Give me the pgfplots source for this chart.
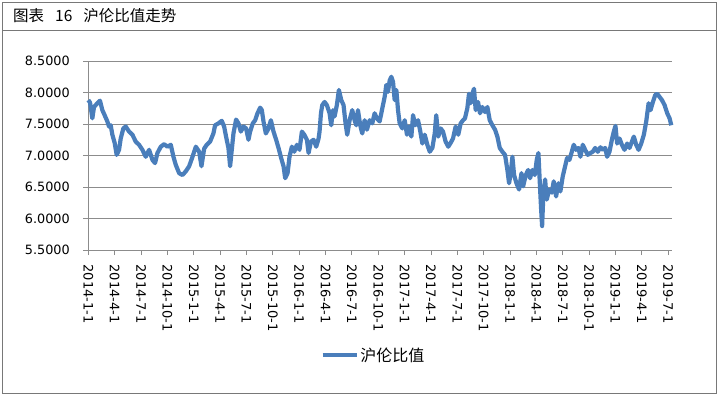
\documentclass[border=0pt]{standalone}
\usepackage{fontspec}
\setmainfont{DejaVu Sans}
\newfontfamily\cjk{Noto Sans CJK SC}
\usepackage{pgfplots}
\pgfplotsset{compat=1.18}
\definecolor{lineblue}{RGB}{74,126,187}
\definecolor{gridgray}{RGB}{140,140,140}
\definecolor{framegray}{RGB}{120,120,120}
\begin{document}
\begin{tikzpicture}
\path[use as bounding box] (0,0) rectangle (718bp,-399bp);
\draw[framegray, line width=1bp] (2.5bp,-2.5bp) rectangle (716bp,-393bp);
\draw[framegray, line width=1bp] (2.5bp,-30bp) -- (716bp,-30bp);
\node[anchor=west, inner sep=0pt] at (13bp,-16bp) {\cjk\fontsize{15.5bp}{18bp}\selectfont 图表\hspace{11bp}16\hspace{11bp}沪伦比值走势};
\begin{axis}[
  scale only axis,
  width=583.4bp, height=189bp,
  at={(88.3bp,-250bp)}, anchor=south west,
  xmin=0, xmax=66.4,
  ymin=5.5, ymax=8.5,
  axis x line*=bottom, axis y line*=left,
  axis line style={gridgray, line width=0.8bp},
  tick align=outside,
  major tick length=5bp,
  tick style={gridgray, line width=0.8bp},
  ytick={5.5,6,6.5,7,7.5,8,8.5},
  yticklabels={5.5000,6.0000,6.5000,7.0000,7.5000,8.0000,8.5000},
  xtick={0,3,...,66},
  xticklabels={2014-1-1,2014-4-1,2014-7-1,2014-10-1,2015-1-1,2015-4-1,2015-7-1,2015-10-1,2016-1-1,2016-4-1,2016-7-1,2016-10-1,2017-1-1,2017-4-1,2017-7-1,2017-10-1,2018-1-1,2018-4-1,2018-7-1,2018-10-1,2019-1-1,2019-4-1,2019-7-1},
  ymajorgrids,
  major grid style={gridgray, line width=0.8bp},
  yticklabel shift=10bp,
  xticklabel shift=6bp,
  yticklabel style={font=\fontsize{12.8bp}{15bp}\selectfont, anchor=east},
  xticklabel style={font=\fontsize{13bp}{15bp}\selectfont, rotate=-90, anchor=west},
  legend style={at={(0.489,-0.556)}, anchor=center, draw=none, fill=none,
    font=\cjk\fontsize{16bp}{18bp}\selectfont, inner sep=0pt},
  legend image code/.code={\draw[#1, line width=3.5bp] (0bp,0bp) -- (34bp,0bp);},
  clip=false,
]
\addplot[lineblue, line width=4.2bp, line join=round] coordinates {
(0,7.88)(0.2,7.84)(0.46,7.59)(0.65,7.77)(1.03,7.83)(1.33,7.87)(1.6,7.72)(1.86,7.64)
(2.17,7.54)(2.36,7.46)(2.55,7.48)(2.74,7.33)(3.0,7.2)(3.23,7.01)(3.5,7.09)(3.69,7.27)
(3.99,7.43)(4.26,7.46)(4.64,7.38)(5.02,7.33)(5.4,7.22)(5.78,7.17)(6.16,7.09)(6.54,6.98)
(6.92,7.09)(7.3,6.93)(7.6,6.88)(7.87,7.04)(8.25,7.14)(8.63,7.18)(9.0,7.14)(9.39,7.17)
(9.69,6.98)(9.96,6.85)(10.34,6.72)(10.72,6.69)(11.1,6.75)(11.48,6.83)(11.86,6.98)
(12.24,7.14)(12.62,7.06)(12.88,6.83)(13.19,7.11)(13.48,7.17)(13.86,7.22)(14.24,7.35)
(14.43,7.48)(14.81,7.51)(15.19,7.55)(15.46,7.46)(15.68,7.3)(15.95,7.12)(16.14,6.83)
(16.33,7.09)(16.52,7.35)(16.82,7.57)(17.09,7.51)(17.36,7.38)(17.66,7.46)(17.96,7.43)
(18.23,7.25)(18.42,7.38)(18.72,7.51)(18.99,7.56)(19.26,7.67)(19.56,7.76)(19.75,7.72)
(19.94,7.54)(20.21,7.35)(20.51,7.43)(20.78,7.56)(21.08,7.38)(21.38,7.25)(21.65,7.12)
(21.95,6.96)(22.22,6.83)(22.41,6.64)(22.68,6.72)(22.9,6.98)(23.17,7.14)(23.44,7.06)
(23.74,7.17)(24.04,7.09)(24.31,7.38)(24.58,7.33)(24.88,7.25)(25.07,7.04)(25.34,7.22)
(25.64,7.25)(25.94,7.14)(26.21,7.27)(26.32,7.38)(26.48,7.67)(26.63,7.8)(26.89,7.85)
(27.15,7.8)(27.46,7.67)(27.65,7.48)(27.84,7.72)(28.03,7.62)(28.29,7.8)(28.52,8.04)
(28.79,7.88)(29.05,7.8)(29.28,7.51)(29.47,7.33)(29.74,7.56)(30.04,7.72)(30.31,7.56)
(30.5,7.48)(30.69,7.72)(30.95,7.48)(31.18,7.35)(31.45,7.56)(31.71,7.41)(32.02,7.56)
(32.32,7.51)(32.59,7.67)(32.85,7.59)(33.16,7.54)(33.42,7.72)(33.73,7.93)(33.92,8.12)
(34.11,8.01)(34.3,8.19)(34.49,8.25)(34.68,8.17)(34.87,7.88)(35.06,8.04)(35.25,7.72)
(35.44,7.51)(35.74,7.43)(36.01,7.56)(36.27,7.33)(36.5,7.46)(36.77,7.3)(36.96,7.64)
(37.22,7.48)(37.53,7.56)(37.79,7.38)(38.02,7.19)(38.29,7.33)(38.59,7.17)(38.86,7.06)
(39.16,7.12)(39.43,7.35)(39.6,7.64)(39.83,7.3)(40.1,7.43)(40.37,7.38)(40.67,7.22)
(40.97,7.14)(41.24,7.2)(41.51,7.27)(41.81,7.46)(42.11,7.33)(42.38,7.51)(42.65,7.56)
(42.87,7.59)(43.14,7.75)(43.33,7.98)(43.52,7.83)(43.71,7.98)(43.9,8.06)(44.09,7.72)
(44.36,7.85)(44.58,7.67)(44.85,7.77)(45.15,7.69)(45.42,7.77)(45.69,7.56)(45.99,7.48)
(46.29,7.41)(46.56,7.3)(46.83,7.12)(47.13,7.06)(47.43,7.01)(47.7,6.77)(47.89,6.56)
(48.08,6.72)(48.27,6.98)(48.46,6.69)(48.73,6.56)(49.03,6.46)(49.3,6.72)(49.49,6.51)
(49.79,6.69)(50.06,6.77)(50.28,6.64)(50.55,6.77)(50.82,6.69)(51.04,6.93)(51.23,7.04)
(51.39,6.56)(51.54,6.14)(51.65,5.88)(51.8,6.41)(51.99,6.62)(52.18,6.3)(52.45,6.46)
(52.75,6.41)(52.97,6.59)(53.24,6.35)(53.51,6.56)(53.73,6.43)(54.0,6.67)(54.27,6.83)
(54.49,6.96)(54.76,6.93)(55.03,7.06)(55.25,7.17)(55.52,7.09)(55.79,7.12)(56.01,6.98)
(56.28,7.17)(56.55,7.09)(56.85,7.01)(57.15,7.04)(57.42,7.06)(57.69,7.12)(57.99,7.06)
(58.29,7.13)(58.56,7.09)(58.83,7.12)(59.05,6.98)(59.32,7.06)(59.59,7.25)(59.81,7.38)
(60.0,7.47)(60.19,7.19)(60.46,7.27)(60.73,7.17)(61.03,7.09)(61.33,7.19)(61.6,7.12)
(61.87,7.22)(62.09,7.3)(62.36,7.17)(62.63,7.09)(62.93,7.19)(63.23,7.33)(63.5,7.54)
(63.77,7.83)(63.99,7.72)(64.26,7.85)(64.53,7.96)(64.75,7.98)(65.02,7.93)(65.29,7.88)
(65.59,7.8)(65.89,7.67)(66.16,7.59)(66.35,7.48)
};
\addlegendentry{沪伦比值}
\end{axis}
\end{tikzpicture}
\end{document}
